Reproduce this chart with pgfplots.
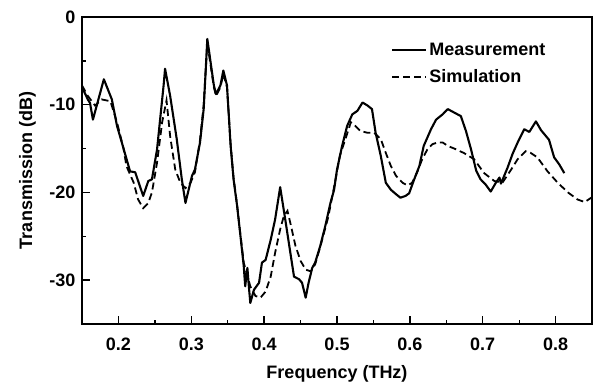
\documentclass[border=0pt]{standalone}
\usepackage{fontspec}
\setmainfont{Liberation Sans}
\usepackage{pgfplots}
\pgfplotsset{compat=1.18}
\begin{document}
\begin{tikzpicture}[x=1bp,y=1bp]
\useasboundingbox (0,0) rectangle (594,381);
\begin{axis}[
 at={(82bp,57bp)}, anchor=south west,
 scale only axis, width=510bp, height=307bp,
 xmin=0.15, xmax=0.85, ymin=-35, ymax=0,
 xtick={0.2,0.3,0.4,0.5,0.6,0.7,0.8},
 xticklabels={0.2,0.3,0.4,0.5,0.6,0.7,0.8},
 minor xtick={0.25,0.35,0.45,0.55,0.65,0.75},
 ytick={-30,-20,-10,0}, yticklabels={-30,-20,-10,0},
 minor ytick={-25,-15,-5},
 tick pos=left, tick align=inside,
 major tick length=8bp, minor tick length=4bp,
 axis line style={line width=1.4bp},
 every tick/.style={line width=1.3bp, black},
 ticklabel style={font=\fontsize{18bp}{20bp}\selectfont\bfseries},
 yticklabel style={xshift=-3bp},
 xticklabel style={yshift=-10bp},
 xlabel={Frequency (THz)}, ylabel={Transmission (dB)},
 label style={font=\fontsize{18bp}{20bp}\selectfont\bfseries},
 xlabel style={at={(axis description cs:0.5,0)}, anchor=base, yshift=-54bp},
 ylabel style={at={(axis description cs:-0.098,0.5)}, anchor=base},
 legend style={draw=none, fill=none, at={(axis description cs:0.6,0.93)}, anchor=north west,
   font=\fontsize{18bp}{20bp}\selectfont\bfseries, row sep=9bp},
 legend cell align=left,
 legend image code/.code={\draw[#1] (0bp,0bp) -- (34bp,0bp);},
]
\addplot[black, line width=2.1bp, line join=round] coordinates {
(0.150,-8.0)(0.158,-9.4)(0.161,-9.8)(0.165,-11.7)(0.180,-7.1)(0.191,-9.4)(0.198,-12.4)
(0.206,-14.7)(0.216,-17.6)(0.223,-17.7)(0.234,-20.4)(0.241,-18.7)(0.246,-18.5)(0.253,-15.1)
(0.262,-7.8)(0.264,-5.9)(0.271,-9.0)(0.280,-13.9)(0.287,-18.5)(0.292,-21.2)(0.301,-18.1)
(0.305,-17.4)(0.312,-14.3)(0.317,-10.5)(0.322,-2.5)(0.331,-7.8)(0.334,-8.8)(0.340,-7.8)
(0.344,-6.1)(0.349,-7.8)(0.354,-14.7)(0.358,-18.5)(0.363,-21.6)(0.367,-24.6)(0.372,-28.4)
(0.374,-30.7)(0.377,-28.6)(0.379,-30.7)(0.381,-32.6)(0.386,-31.1)(0.393,-30.3)(0.397,-28.0)
(0.402,-27.7)(0.409,-25.4)(0.415,-23.1)(0.422,-19.4)(0.429,-23.1)(0.436,-26.9)(0.441,-29.6)
(0.448,-29.9)(0.452,-30.3)(0.457,-32.0)(0.461,-30.3)(0.466,-28.6)(0.470,-28.0)(0.477,-26.1)
(0.484,-23.8)(0.491,-21.2)(0.496,-19.7)(0.500,-17.4)(0.507,-14.7)(0.514,-12.4)(0.521,-11.1)
(0.528,-10.7)(0.535,-9.75)(0.542,-10.1)(0.548,-10.5)(0.553,-13.2)(0.560,-15.8)(0.567,-18.9)
(0.574,-19.7)(0.581,-20.2)(0.587,-20.6)(0.594,-20.4)(0.599,-20.1)(0.606,-18.5)(0.613,-17.0)
(0.619,-14.7)(0.629,-12.8)(0.636,-11.7)(0.645,-11.1)(0.652,-10.5)(0.661,-10.9)(0.670,-11.3)
(0.677,-13.0)(0.684,-15.1)(0.691,-17.5)(0.697,-18.5)(0.704,-19.1)(0.711,-19.9)(0.718,-18.9)
(0.723,-18.3)(0.725,-19.0)(0.734,-17.2)(0.741,-15.6)(0.748,-14.3)(0.757,-12.8)(0.764,-13.1)
(0.773,-11.9)(0.780,-12.9)(0.787,-13.6)(0.791,-14.0)(0.798,-16.0)(0.805,-16.8)(0.812,-17.8)
};
\addlegendentry{Measurement}
\addplot[black, line width=1.8bp, dash pattern=on 7bp off 4bp] coordinates {
(0.150,-7.8)(0.158,-9.0)(0.168,-10.1)(0.177,-9.4)(0.189,-9.6)(0.198,-12.0)(0.207,-15.0)
(0.211,-17.0)(0.221,-18.9)(0.227,-20.8)(0.234,-21.8)(0.241,-21.2)(0.246,-20.0)(0.253,-16.6)
(0.260,-12.0)(0.266,-9.5)(0.271,-13.6)(0.278,-17.4)(0.285,-18.9)(0.292,-19.5)(0.299,-18.9)
(0.305,-17.7)(0.312,-14.0)(0.317,-10.0)(0.322,-3.0)(0.331,-8.0)(0.334,-9.0)(0.340,-8.0)
(0.344,-6.5)(0.349,-8.0)(0.354,-14.5)(0.358,-18.3)(0.363,-21.5)(0.367,-24.5)(0.372,-28.0)
(0.377,-29.5)(0.381,-30.7)(0.388,-31.8)(0.395,-32.0)(0.402,-31.3)(0.409,-29.6)(0.415,-26.9)
(0.422,-24.2)(0.427,-22.7)(0.432,-22.1)(0.436,-23.5)(0.443,-26.1)(0.450,-27.8)(0.457,-28.8)
(0.464,-29.0)(0.470,-28.2)(0.477,-26.2)(0.488,-22.8)(0.498,-18.5)(0.504,-15.8)(0.512,-13.8)
(0.519,-12.0)(0.525,-12.4)(0.532,-13.0)(0.542,-13.2)(0.551,-13.2)(0.560,-13.9)(0.567,-15.5)
(0.574,-17.0)(0.581,-18.1)(0.590,-18.9)(0.597,-19.2)(0.603,-18.9)(0.610,-17.7)(0.617,-16.2)
(0.624,-15.1)(0.631,-14.5)(0.638,-14.3)(0.645,-14.3)(0.652,-14.7)(0.661,-15.0)(0.674,-15.5)
(0.688,-16.2)(0.702,-17.8)(0.716,-18.7)(0.727,-18.9)(0.739,-17.4)(0.748,-16.2)(0.759,-15.3)
(0.766,-15.5)(0.775,-16.0)(0.789,-17.6)(0.803,-18.9)(0.817,-20.0)(0.830,-20.8)(0.840,-21.1)
(0.849,-20.6)
};
\addlegendentry{Simulation}
\end{axis}
\end{tikzpicture}
\end{document}
